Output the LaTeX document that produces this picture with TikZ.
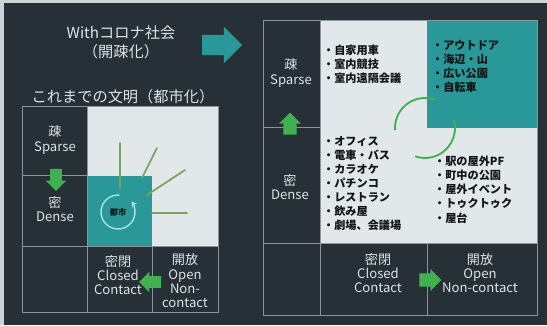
\documentclass[tikz,border=0pt]{standalone}
\usepackage{fontspec}
\setmainfont{Noto Sans CJK JP}
\usetikzlibrary{arrows.meta,positioning,shapes.arrows}
\definecolor{slate}{RGB}{38,48,54}
\definecolor{rim}{RGB}{205,210,210}
\definecolor{frameline}{RGB}{138,148,154}
\definecolor{paper}{RGB}{226,231,233}
\definecolor{cityteal}{RGB}{42,152,152}
\definecolor{leaf}{RGB}{64,176,80}
\definecolor{rayolive}{RGB}{120,164,96}
\definecolor{ring}{RGB}{168,226,222}
\definecolor{chalk}{RGB}{222,227,230}
\definecolor{ink}{RGB}{18,20,22}

\begin{document}
\begin{tikzpicture}[
  x=0.03cm,y=-0.03cm,
  font=\fontsize{10.5}{12.5}\selectfont,
  grid/.style={draw=frameline, line width=0.7pt},
  axislabel/.style={align=center, text=chalk, inner sep=0pt,
                    font=\fontsize{11.2}{12.2}\selectfont},
  heading/.style={align=center, text=chalk, inner sep=0pt,
                  font=\fontsize{13}{16}\selectfont},
  items/.style={anchor=north west, align=left, inner sep=0pt, text=ink,
                font=\fontsize{9.5}{12}\selectfont\bfseries},
  move/.style={single arrow, fill=leaf, draw=none, inner sep=0.17cm,
               minimum height=0.66cm, single arrow head extend=0.13cm},
  ray/.style={draw=rayolive, line width=1.5pt, line cap=round},
  loop/.style={draw=leaf, line width=1.6pt}
]

% Slide background with the light scan edge.
\useasboundingbox (0,0) rectangle (547,325);
\fill[rim] (0,0) rectangle (547,325);
\fill[slate] (4,3) rectangle (547,325);

% Headings above the old grid.
\node[heading] (titlewith) at (121,42) {With{}コロナ社会\\（開疎化）};
\node[single arrow, fill=cityteal, inner sep=0.3cm, minimum height=1.2cm,
      single arrow head extend=0.24cm]
  (go) at (217,45) {};
\node[heading] (titleold) at (123,97) {これまでの文明（都市化）};

% Old civilisation grid: everything gathers in the dense closed cell.
\fill[paper] (87,106) rectangle (218,246);
\fill[cityteal] (87,176) rectangle (152,246);
\draw[grid] (22,106) rectangle (218,312);
\draw[grid] (87,106) -- (87,312);
\draw[grid] (22,246) -- (218,246);
\draw[grid] (22,175) -- (87,175);
\draw[grid] (152,246) -- (152,312);

\foreach \ax/\ay/\bx/\by in {120/143/120/188, 157/148/142/178,
                             185/170/147/195, 152/213/187/213}
  \draw[ray] (\ax,\ay) -- (\bx,\by);

\node[font=\fontsize{7}{8}\selectfont\bfseries, text=ink, inner sep=0pt]
  (city) at (118,212) {都市};
\draw[draw=ring, line width=1.2pt, -{Stealth[length=1.6mm,width=1.8mm]}]
  ([shift={(85:0.51cm)}]city.center)
  arc[start angle=85, end angle=398, radius=0.51cm];

\node[axislabel] (sparseL) at (55,140) {疎\\Sparse};
\node[axislabel] (denseL) at (55,209) {密\\Dense};
\node[move, shape border rotate=270] (toDenseL) at (56,177) {};
\node[axislabel] (closedL) at (118,275) {密閉\\Closed\\Contact};
\node[axislabel] (openL) at (185,281) {開放\\Open\\Non-\\contact};
\node[move, shape border rotate=180] (toClosedL) at (153,282) {};

% With-corona grid: activities spread out to the open and sparse cells.
\fill[paper] (320,20) rectangle (537,243);
\fill[cityteal] (427,20) rectangle (537,128);
\draw[grid] (263,20) rectangle (537,315);
\draw[grid] (320,20) -- (320,315);
\draw[grid] (263,243) -- (537,243);
\draw[grid] (263,127) -- (320,127);
\draw[grid] (427,243) -- (427,315);

\coordinate (swap) at (425,128);
\draw[loop] ([shift={(184:0.9cm)}]swap)
  arc[start angle=184, end angle=70, radius=0.9cm];
\draw[loop] ([shift={(15:0.9cm)}]swap)
  arc[start angle=15, end angle=-109, radius=0.9cm];

\node[axislabel] (sparseR) at (291,73) {疎\\Sparse};
\node[axislabel] (denseR) at (290,187) {密\\Dense};
\node[move, shape border rotate=90, inner sep=0.19cm]
  (toSparseR) at (290,127) {};
\node[axislabel] (closedR) at (378,273) {密閉\\Closed\\Contact};
\node[axislabel] (openR) at (480,273) {開放\\Open\\Non-contact};
\node[move, inner sep=0.19cm] (toOpenR) at (427,280) {};

\node[items] (homeList) at (323,45)
  {・自家用車\\・室内競技\\・室内遠隔会議};
\node[items] (outdoorList) at (432,40)
  {・アウトドア\\・海辺・山\\・広い公園\\・自転車};
\node[items] (indoorList) at (323,136)
  {・オフィス\\・電車・バス\\・カラオケ\\・パチンコ\\・レストラン\\・飲み屋\\・劇場、会議場};
\node[items] (openairList) at (434,156)
  {・駅の屋外PF\\・町中の公園\\・屋外イベント\\・トゥクトゥク\\・屋台};

\end{tikzpicture}
\end{document}
